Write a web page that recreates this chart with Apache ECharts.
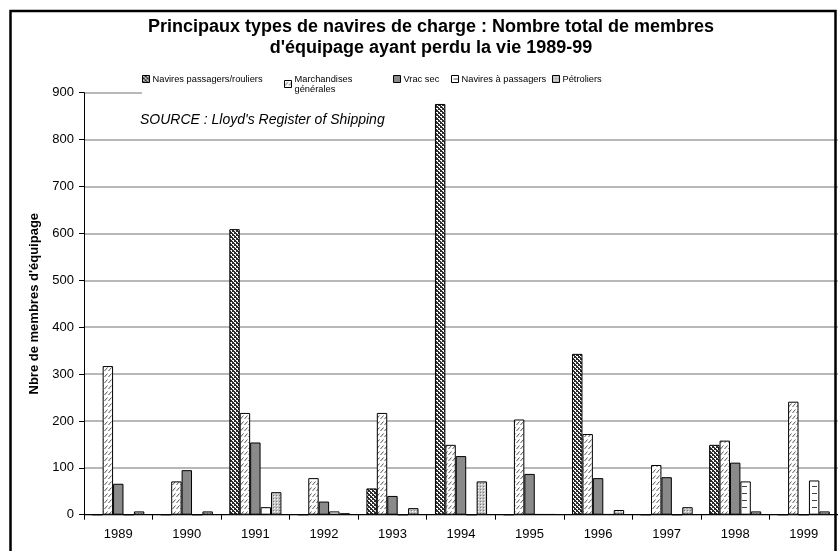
<!DOCTYPE html>
<html><head><meta charset="utf-8">
<script src="https://cdn.jsdelivr.net/npm/echarts@6/dist/echarts.min.js"></script>
<style>html,body{margin:0;padding:0;background:#fff}#c{width:838px;height:551px}</style>
</head><body><div id="c"></div>
<script>
const categories = ['1989','1990','1991','1992','1993','1994','1995','1996','1997','1998','1999'];
const seriesNames = ['Navires passagers/rouliers','Marchandises\ngénérales','Vrac sec','Navires à passagers','Pétroliers'];
const rouliers     = [0, 0, 609, 0, 56, 876, 0, 343, 0, 149, 0];
const marchandises = [317, 71, 217, 78, 217, 149, 203, 172, 106, 158, 241];
const vracSec      = [66, 95, 154, 28, 40, 125, 87, 78, 80, 111, 0];
const passagers    = [0, 0, 16, 7, 0, 0, 1, 1, 0, 71, 73];
const petroliers   = [7, 7, 48, 3, 14, 71, 1, 10, 16, 7, 7];
const yTicks = [0, 100, 200, 300, 400, 500, 600, 700, 800, 900];

const titleLines = ['Principaux types de navires de charge : Nombre total de membres', "d'équipage ayant perdu la vie 1989-99"];
const sourceText = "SOURCE : Lloyd's Register of Shipping";
const yName = "Nbre de membres d'équipage";

const FONT = "'Liberation Sans', Arial, sans-serif";

function tile(w, h, draw) {
  const c = document.createElement('canvas');
  c.width = w; c.height = h;
  const g = c.getContext('2d');
  draw(g);
  return { image: c, repeat: 'repeat' };
}
const patRouliers = tile(4, 4, g => {
  g.fillStyle = '#2e2e2e'; g.fillRect(0, 0, 4, 4);
  g.fillStyle = '#ffffff';
  g.fillRect(0, 0, 2, 1); g.fillRect(2, 2, 2, 1); g.fillRect(1, 1, 1, 1); g.fillRect(3, 3, 1, 1);
});
const patMarch = tile(4, 6, g => {
  g.fillStyle = '#ffffff'; g.fillRect(0, 0, 4, 6);
  g.strokeStyle = '#555'; g.lineWidth = 1;
  g.beginPath(); g.moveTo(0.5, 5); g.lineTo(3.5, 1.5); g.stroke();
});
const patPass = tile(10, 7, g => {
  g.fillStyle = '#ffffff'; g.fillRect(0, 0, 10, 7);
  g.fillStyle = '#444'; g.fillRect(2, 3, 5, 1);
});
const patPetrol = tile(3, 3, g => {
  g.fillStyle = '#c4c4c4'; g.fillRect(0, 0, 3, 3);
  g.fillStyle = '#7a7a7a'; g.fillRect(0, 0, 1, 1);
  g.fillStyle = '#ffffff'; g.fillRect(1, 1, 1, 1);
});
const fills = [patRouliers, patMarch, '#8a8a8a', patPass, patPetrol];
const values = [rouliers, marchandises, vracSec, passagers, petroliers];
const legendLeft = [142, 284, 393, 451, 552];

const chart = echarts.init(document.getElementById('c'), null, { renderer: 'canvas' });
chart.setOption({
  animation: false,
  backgroundColor: '#fff',
  textStyle: { fontFamily: FONT },
  grid: { left: 84, right: -7, top: 92.7, bottom: 36.3, containLabel: false },
  legend: seriesNames.map((n, i) => ({
    data: [n], left: legendLeft[i], top: 74, itemWidth: 7, itemHeight: 7, padding: 0, z: 5,
    icon: 'rect', itemGap: 0,
    itemStyle: { borderColor: '#000', borderWidth: 1 },
    textStyle: { fontSize: 9.3, color: '#000', fontFamily: FONT, lineHeight: 10, padding: [0, 0, 0, -2] }
  })),
  xAxis: {
    type: 'category', data: categories,
    axisLine: { lineStyle: { color: '#000', width: 1 } },
    axisTick: { show: true, length: 5, lineStyle: { color: '#000' } },
    axisLabel: { fontSize: 13, color: '#000', margin: 13, fontFamily: FONT }
  },
  yAxis: {
    type: 'value', min: 0, max: 900, interval: 100,
    name: yName, nameLocation: 'middle', nameGap: 40, nameRotate: 90,
    nameTextStyle: { fontSize: 13, fontWeight: 'bold', color: '#000', fontFamily: FONT },
    axisLine: { show: true, lineStyle: { color: '#000', width: 1 } },
    axisTick: { show: true, length: 5, lineStyle: { color: '#000' } },
    axisLabel: { fontSize: 13, color: '#000', margin: 10, fontFamily: FONT },
    splitLine: { lineStyle: { color: '#a0a0a0', width: 1.5 } }
  },
  series: seriesNames.map((n, i) => ({
    name: n, type: 'bar', data: values[i],
    barGap: '0%', barCategoryGap: '24%',
    itemStyle: { color: fills[i], borderColor: '#000', borderWidth: 1 },
    z: 2
  })),
  graphic: [
    { type: 'rect', z: 1, shape: { x: 142, y: 84, width: 700, height: 14 }, style: { fill: '#fff' } },
    { type: 'text', z: 10, style: { x: 431, y: 27, text: titleLines[0], textAlign: 'center', textVerticalAlign: 'middle', font: "bold 18px " + FONT, fill: '#000' } },
    { type: 'text', z: 10, style: { x: 431, y: 48, text: titleLines[1], textAlign: 'center', textVerticalAlign: 'middle', font: "bold 18px " + FONT, fill: '#000' } },
    { type: 'text', z: 10, style: { x: 140, y: 120, text: sourceText, textAlign: 'left', textVerticalAlign: 'middle', font: "italic 14px " + FONT, fill: '#000' } },
    { type: 'rect', z: 20, shape: { x: 10.5, y: 11, width: 825, height: 560 }, style: { fill: 'none', stroke: '#000', lineWidth: 2.5 } }
  ]
});
</script></body></html>
